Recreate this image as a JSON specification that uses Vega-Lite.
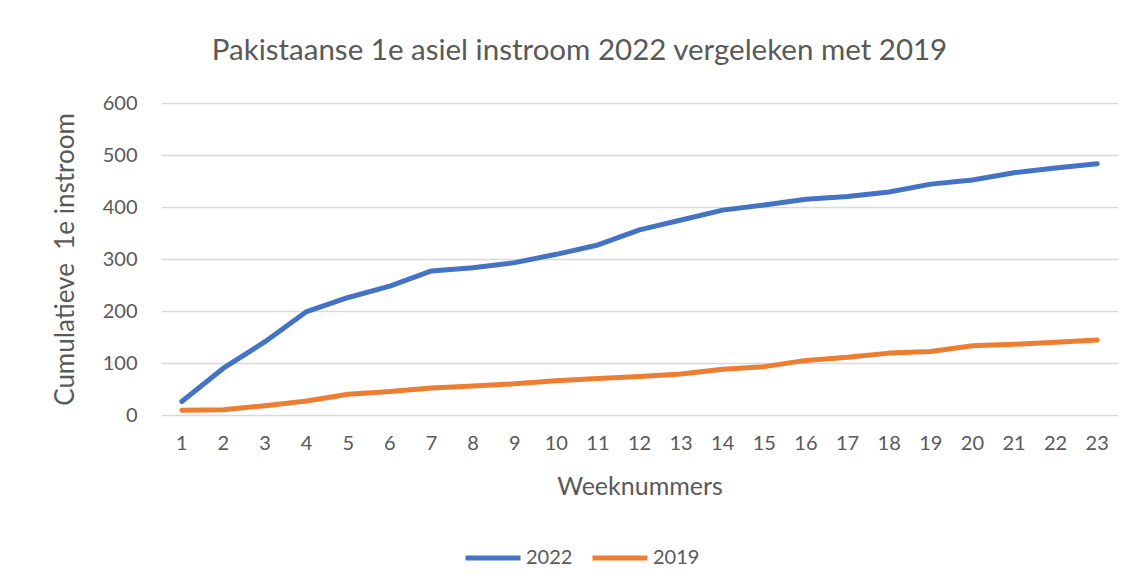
{
  "$schema": "https://vega.github.io/schema/vega-lite/v6.json",
  "autosize": "none",
  "width": 957,
  "height": 312,
  "padding": {"left": 161, "top": 103, "right": 17, "bottom": 169},
  "background": "white",
  "config": {
    "view": {"stroke": null},
    "font": "Lato",
    "axis": {"labelFont": "Lato", "titleFont": "Lato", "labelColor": "#595959", "titleColor": "#595959", "titleFontWeight": "normal"}
  },
  "title": {
    "text": "Pakistaanse 1e asiel instroom 2022 vergeleken met 2019",
    "font": "Lato",
    "fontSize": 29.5,
    "fontWeight": "normal",
    "color": "#595959",
    "anchor": "middle",
    "frame": "group",
    "dx": -60,
    "baseline": "alphabetic",
    "offset": 4
  },
  "data": {
    "values": [
      {"week": 1, "serie": "2022", "waarde": 26},
      {"week": 2, "serie": "2022", "waarde": 90},
      {"week": 3, "serie": "2022", "waarde": 141},
      {"week": 4, "serie": "2022", "waarde": 199},
      {"week": 5, "serie": "2022", "waarde": 226},
      {"week": 6, "serie": "2022", "waarde": 248},
      {"week": 7, "serie": "2022", "waarde": 277},
      {"week": 8, "serie": "2022", "waarde": 283},
      {"week": 9, "serie": "2022", "waarde": 293},
      {"week": 10, "serie": "2022", "waarde": 309},
      {"week": 11, "serie": "2022", "waarde": 327},
      {"week": 12, "serie": "2022", "waarde": 356},
      {"week": 13, "serie": "2022", "waarde": 375},
      {"week": 14, "serie": "2022", "waarde": 394},
      {"week": 15, "serie": "2022", "waarde": 404},
      {"week": 16, "serie": "2022", "waarde": 415},
      {"week": 17, "serie": "2022", "waarde": 420},
      {"week": 18, "serie": "2022", "waarde": 429},
      {"week": 19, "serie": "2022", "waarde": 444},
      {"week": 20, "serie": "2022", "waarde": 452},
      {"week": 21, "serie": "2022", "waarde": 466},
      {"week": 22, "serie": "2022", "waarde": 475},
      {"week": 23, "serie": "2022", "waarde": 483},
      {"week": 1, "serie": "2019", "waarde": 9},
      {"week": 2, "serie": "2019", "waarde": 10},
      {"week": 3, "serie": "2019", "waarde": 18},
      {"week": 4, "serie": "2019", "waarde": 27},
      {"week": 5, "serie": "2019", "waarde": 40},
      {"week": 6, "serie": "2019", "waarde": 45},
      {"week": 7, "serie": "2019", "waarde": 52},
      {"week": 8, "serie": "2019", "waarde": 56},
      {"week": 9, "serie": "2019", "waarde": 60},
      {"week": 10, "serie": "2019", "waarde": 66},
      {"week": 11, "serie": "2019", "waarde": 70},
      {"week": 12, "serie": "2019", "waarde": 74},
      {"week": 13, "serie": "2019", "waarde": 79},
      {"week": 14, "serie": "2019", "waarde": 88},
      {"week": 15, "serie": "2019", "waarde": 93},
      {"week": 16, "serie": "2019", "waarde": 105},
      {"week": 17, "serie": "2019", "waarde": 111},
      {"week": 18, "serie": "2019", "waarde": 119},
      {"week": 19, "serie": "2019", "waarde": 122},
      {"week": 20, "serie": "2019", "waarde": 133},
      {"week": 21, "serie": "2019", "waarde": 136},
      {"week": 22, "serie": "2019", "waarde": 140},
      {"week": 23, "serie": "2019", "waarde": 144}
    ]
  },
  "mark": {"type": "line", "strokeWidth": 5, "strokeCap": "round", "strokeJoin": "round"},
  "encoding": {
    "x": {
      "field": "week",
      "type": "ordinal",
      "sort": "ascending",
      "scale": {"type": "band", "paddingInner": 0, "paddingOuter": 0},
      "axis": {
        "title": "Weeknummers",
        "titleFontSize": 25,
        "titlePadding": 21,
        "labelFontSize": 20,
        "labelAngle": 0,
        "labelPadding": 18,
        "ticks": false,
        "domain": false,
        "grid": false
      }
    },
    "y": {
      "field": "waarde",
      "type": "quantitative",
      "scale": {"domain": [0, 600]},
      "axis": {
        "title": "Cumulatieve\u00a0 1e instroom",
        "titleFontSize": 26,
        "titlePadding": 24,
        "labelFontSize": 20,
        "labelPadding": 24,
        "labelOverlap": false,
        "values": [0, 100, 200, 300, 400, 500, 600],
        "ticks": false,
        "domain": false,
        "grid": true,
        "gridColor": "#D9D9D9",
        "gridWidth": 1.4
      }
    },
    "color": {
      "field": "serie",
      "type": "nominal",
      "sort": ["2022", "2019"],
      "scale": {"domain": ["2022", "2019"], "range": ["#4472C4", "#ED7D31"]},
      "legend": {
        "title": null,
        "orient": "none",
        "direction": "horizontal",
        "legendX": 302,
        "legendY": 425,
        "symbolType": "stroke",
        "symbolSize": 3025,
        "symbolStrokeWidth": 5,
        "labelFontSize": 20,
        "labelFont": "Lato",
        "labelColor": "#595959",
        "labelOffset": 3,
        "columnPadding": 9
      }
    }
  }
}
